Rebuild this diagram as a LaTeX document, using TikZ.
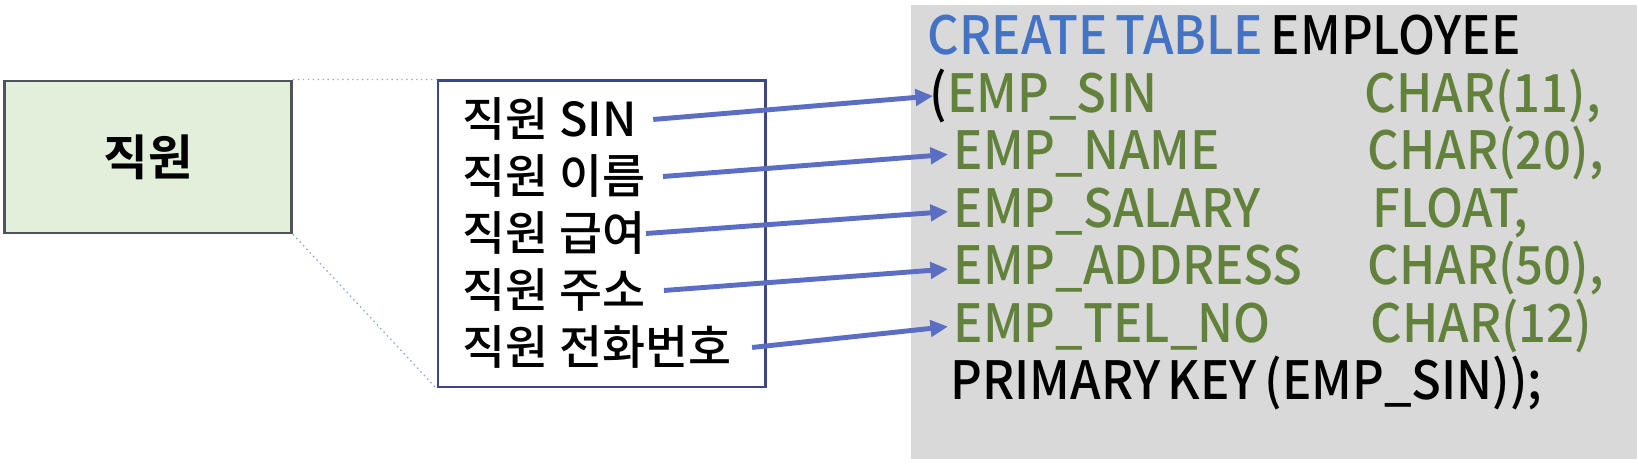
\documentclass[tikz,border=0pt]{standalone}
\usepackage{fontspec}
\setmainfont{Noto Sans CJK KR}[UprightFont=* Medium,BoldFont=* Bold]
\newfontfamily\sqlfont{Noto Sans CJK KR Medium}[FakeStretch=0.93,WordSpace=0.7]
\usetikzlibrary{arrows.meta}
\definecolor{panelgray}{RGB}{217,217,217}
\definecolor{entgreen}{RGB}{226,239,218}
\definecolor{entedge}{RGB}{80,84,90}
\definecolor{listedge}{RGB}{60,72,130}
\definecolor{linkblue}{RGB}{92,110,196}
\definecolor{zoomblue}{RGB}{143,170,220}
\definecolor{sqlblue}{RGB}{68,114,196}
\definecolor{sqlgreen}{RGB}{98,130,60}
\begin{document}
\begin{tikzpicture}[x=0.01cm,y=-0.01cm,
    field/.style={anchor=base west,inner sep=0pt,font=\fontsize{13.3}{15}\selectfont},
    sqlline/.style={anchor=base west,inner sep=0pt,font=\sqlfont\fontsize{15}{17}\selectfont},
    link/.style={draw=linkblue,line width=1.4pt,-{Triangle[length=5pt,width=4.6pt]}},
    zoomline/.style={draw=zoomblue,line width=0.4pt,densely dotted}]
    \useasboundingbox (0,0) rectangle (1637,465);
    \fill[panelgray] (911,5) rectangle (1637,459);
    \node [draw=entedge,fill=entgreen,line width=0.8pt,minimum width=2.87cm,minimum height=1.52cm,
           font=\fontsize{13.8}{15}\selectfont\bfseries] (ent) at (148,157) {직원};
    \node [draw=listedge,line width=0.8pt,minimum width=3.27cm,minimum height=3.06cm] (attrs) at (601.5,234) {};
    \draw[zoomline] (ent.north east) -- (attrs.north west);
    \draw[zoomline] (ent.south east) -- (attrs.south west);
    \node [field] (f1) at (462,137) {직원 SIN};
    \node [field] (f2) at (462,194) {직원 이름};
    \node [field] (f3) at (462,251) {직원 급여};
    \node [field] (f4) at (462,308) {직원 주소};
    \node [field] (f5) at (462,365) {직원 전화번호};
    \node [sqlline,text=sqlblue] (create) at (927,55) {CREATE TABLE \textcolor{black}{EMPLOYEE}};
    \node [sqlline,text=sqlgreen] (c1) at (929,112.5) {\textcolor{black}{(}EMP\_SIN};
    \node [sqlline,text=sqlgreen] (c2) at (953,170) {EMP\_NAME};
    \node [sqlline,text=sqlgreen] (c3) at (953,227.5) {EMP\_SALARY};
    \node [sqlline,text=sqlgreen] (c4) at (953,285) {EMP\_ADDRESS};
    \node [sqlline,text=sqlgreen] (c5) at (953,342.5) {EMP\_TEL\_NO};
    \node [sqlline,text=sqlgreen] (t1) at (1364,112.5) {CHAR(11),};
    \node [sqlline,text=sqlgreen] (t2) at (1367,170) {CHAR(20),};
    \node [sqlline,text=sqlgreen] (t3) at (1372,227.5) {FLOAT,};
    \node [sqlline,text=sqlgreen] (t4) at (1367,285) {CHAR(50),};
    \node [sqlline,text=sqlgreen] (t5) at (1370,342.5) {CHAR(12)};
    \node [sqlline] (pk) at (950,400) {PRIMARY KEY (EMP\_SIN));};
    \draw[link] ([xshift=0.16cm]f1.east) -- ([xshift=0.04cm]c1.west);
    \draw[link] ([xshift=0.17cm]f2.east) -- ([xshift=-0.05cm]c2.west);
    \draw[link] (f3.east) -- ([xshift=-0.05cm]c3.west);
    \draw[link] ([xshift=0.18cm]f4.east) -- ([xshift=-0.05cm]c4.west);
    \draw[link] ([xshift=0.2cm]f5.east) -- ([xshift=-0.05cm]c5.west);
\end{tikzpicture}
\end{document}
